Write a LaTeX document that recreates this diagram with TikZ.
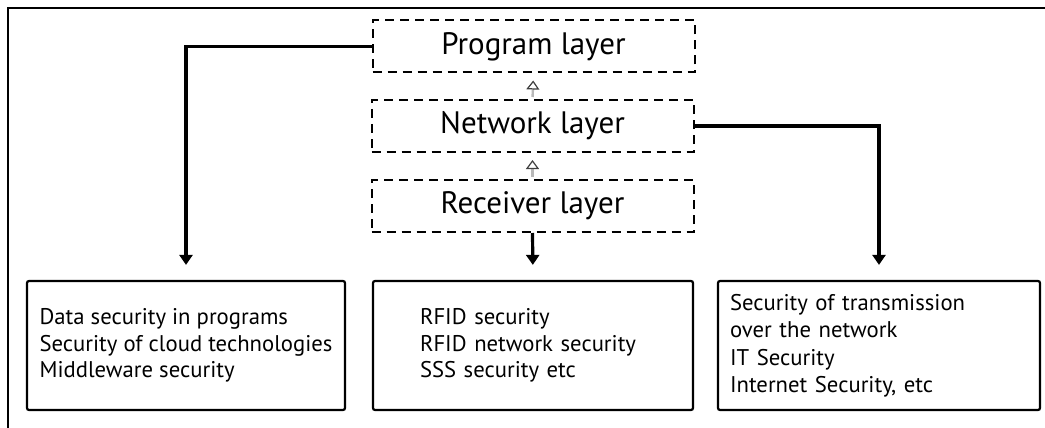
\documentclass[tikz,border=0pt]{standalone}
\usepackage{fontspec}
\setmainfont{PT Sans}
\usetikzlibrary{arrows.meta}

\tikzset{
    layer/.style={draw, dash pattern=on 9pt off 6pt, line width=2pt,
        minimum width=322pt, minimum height=52pt, inner sep=0pt,
        font=\fontsize{31}{34}\selectfont},
    secbox/.style={draw, line width=2.2pt, rounded corners=2pt,
        minimum height=129pt, align=left, inner ysep=0pt,
        font=\fontsize{22.7}{26.5}\selectfont},
    link/.style={line width=3.2pt, -{Triangle[width=13pt,length=10pt]},
        shorten >=15pt},
    lift/.style={gray!55, line width=2.4pt,
        -{Triangle[open,width=13pt,length=9pt,color=black!75,line width=1.2pt]},
        shorten <=2pt, shorten >=7pt}
}

\begin{document}
\begin{tikzpicture}[x=1pt, y=-1pt]
            \useasboundingbox (0,0) rectangle (1045,428);

            % outer frame, only top and left edge show
            \draw[line width=1.6pt] (8,428) -- (8,8) -- (1045,8);

            % the three layers
            \node[layer] (prog) at (533.5, 46.5) {Program layer};
            \node[layer] (net)  at (532.5,126)   {Network layer};
            \node[layer] (recv) at (532.5,206)   {Receiver layer};

            \draw[lift] (recv.north) -- (net.south);
            \draw[lift] (net.north) -- (prog.south);

            % security per layer
            \node[secbox, minimum width=318pt, inner xsep=8pt] (progsec) at (186,345.5)
                {Data security in programs\\
                 Security of cloud technologies\\
                 Middleware security};
            \node[secbox, text width=226pt, inner xsep=47pt] (recvsec) at (533,345.5)
                {RFID security\\
                 RFID network security\\
                 SSS security etc};
            \node[secbox, text width=298pt, inner xsep=12pt] (netsec) at (879,345.5)
                {Security of transmission\\
                 over the network\\[2pt]
                 IT Security\\
                 Internet Security, etc};

            \draw[link] (prog.west) -| (progsec.north);
            \draw[link] (recv.south) -- (recvsec.north);
            \draw[link] (net.east) -| (netsec.north);
        \end{tikzpicture}
\end{document}
